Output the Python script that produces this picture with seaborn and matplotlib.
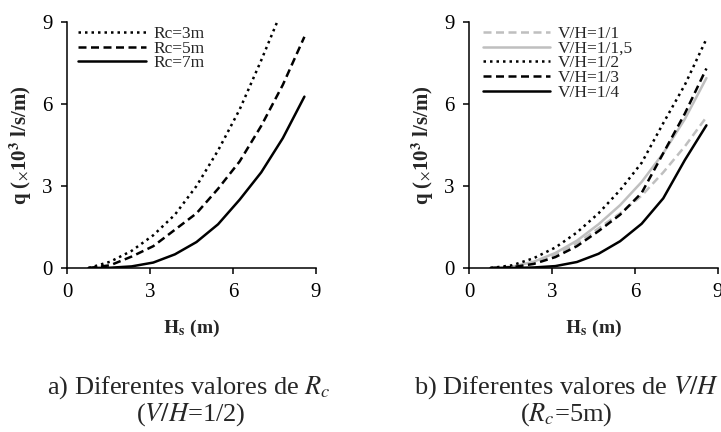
import matplotlib
matplotlib.use("Agg")
import matplotlib.pyplot as plt
from matplotlib import font_manager
import seaborn as sns
import numpy as np
import pandas as pd

# ---- data ----
hs = [0.78, 1.56, 2.34, 3.12, 3.90, 4.68, 5.46, 6.24, 7.02, 7.80, 8.58]

rc_labels = ["Rc=3m", "Rc=5m", "Rc=7m"]
rc3 = [0.0, 0.23, 0.63, 1.20, 1.95, 3.00, 4.30, 5.80, 7.60, 9.50, np.nan]
rc5 = [0.0, 0.10, 0.42, 0.80, 1.40, 2.00, 2.90, 3.90, 5.20, 6.70, 8.46]
rc7 = [0.0, 0.01, 0.06, 0.20, 0.50, 0.95, 1.60, 2.50, 3.50, 4.75, 6.27]

vh_labels = ["V/H=1/1", "V/H=1/1,5", "V/H=1/2", "V/H=1/3", "V/H=1/4"]
vh1_1 = [0.0, 0.04, 0.20, 0.50, 0.90, 1.45, 2.00, 2.65, 3.50, 4.45, 5.52]
vh1_15 = [0.0, 0.05, 0.23, 0.55, 1.00, 1.60, 2.30, 3.15, 4.20, 5.45, 6.95]
vh1_2 = [0.0, 0.10, 0.36, 0.75, 1.30, 2.00, 2.85, 3.85, 5.30, 6.70, 8.38]
vh1_3 = [0.0, 0.03, 0.15, 0.40, 0.80, 1.35, 1.95, 2.75, 4.20, 5.65, 7.30]
vh1_4 = [0.0, 0.00, 0.02, 0.07, 0.22, 0.52, 0.98, 1.62, 2.55, 3.95, 5.22]

ticks = [0, 3, 6, 9]

# ---- find a Times-like serif font ----
serif_name = None
for f in font_manager.findSystemFonts():
    base = f.replace("\\", "/").split("/")[-1].lower()
    if base.startswith("liberationserif"):
        try:
            font_manager.fontManager.addfont(f)
        except Exception:
            pass
        if base.startswith("liberationserif-regular"):
            serif_name = font_manager.FontProperties(fname=f).get_name()
if serif_name is None:
    serif_name = "Liberation Serif"

sns.set_theme(style="ticks")
plt.rcParams["font.family"] = [serif_name, "DejaVu Serif"]
plt.rcParams["mathtext.fontset"] = "stix"

fig = plt.figure(figsize=(7.21, 4.32), dpi=100)
axL = fig.add_axes([0.0929, 0.3796, 0.3454, 0.5694])
axR = fig.add_axes([0.6505, 0.3796, 0.3454, 0.5694])

BLACK = "#000000"
GRAY = "#BFBFBF"
dotted = (0, (1, 1.6))
dashed = (0, (3.2, 1.8))

left_styles = [(BLACK, dotted), (BLACK, dashed), (BLACK, "-")]
left_series = [rc3, rc5, rc7]
for lab, ys, (c, ls) in zip(rc_labels, left_series, left_styles):
    df = pd.DataFrame({"Hs": hs, "q": ys})
    sns.lineplot(data=df, x="Hs", y="q", ax=axL, color=c, linestyle=ls,
                 linewidth=1.8, label=lab)

right_styles = [(GRAY, dashed), (GRAY, "-"), (BLACK, dotted), (BLACK, dashed), (BLACK, "-")]
right_series = [vh1_1, vh1_15, vh1_2, vh1_3, vh1_4]
for lab, ys, (c, ls) in zip(vh_labels, right_series, right_styles):
    df = pd.DataFrame({"Hs": hs, "q": ys})
    sns.lineplot(data=df, x="Hs", y="q", ax=axR, color=c, linestyle=ls,
                 linewidth=1.8, label=lab)

for ax, anchor_x in [(axL, 0.045), (axR, 0.055)]:
    ax.set_xlim(0, 9)
    ax.set_ylim(0, 9)
    ax.set_xticks(ticks)
    ax.set_yticks(ticks)
    ax.set_xticklabels([str(t) for t in ticks])
    ax.set_yticklabels([str(t) for t in ticks])
    for s in ["top", "right"]:
        ax.spines[s].set_visible(False)
    for s in ["left", "bottom"]:
        ax.spines[s].set_linewidth(1.1)
        ax.spines[s].set_color("black")
    ax.tick_params(axis="both", direction="out", length=4.5, width=1.1,
                   labelsize=15, pad=6, colors="black")
    ax.set_xlabel(r"$\mathbf{H_s}$ (m)", fontsize=14, fontweight="bold", labelpad=12)
    ax.set_ylabel(r"q ($_{\times}$10$^{\mathbf{3}}$ l/s/m)", fontsize=15,
                  fontweight="bold", labelpad=6)
    ax.grid(False)
    ax.legend(loc="upper left", bbox_to_anchor=(anchor_x, 0.985),
              frameon=False, fontsize=12.5, handlelength=3.9,
              handletextpad=0.45, labelspacing=-0.08, borderpad=0,
              borderaxespad=0)

fig.text(0.262, 0.102, r"a) Diferentes valores de $R_c$", ha="center", va="center", fontsize=19)
fig.text(0.264, 0.040, r"($V/H$=1/2)", ha="center", va="center", fontsize=19)
fig.text(0.786, 0.102, r"b) Diferentes valores de $V/H$", ha="center", va="center", fontsize=19)
fig.text(0.786, 0.040, r"($R_c$=5m)", ha="center", va="center", fontsize=19)

fig.savefig("out.png", dpi=100)
